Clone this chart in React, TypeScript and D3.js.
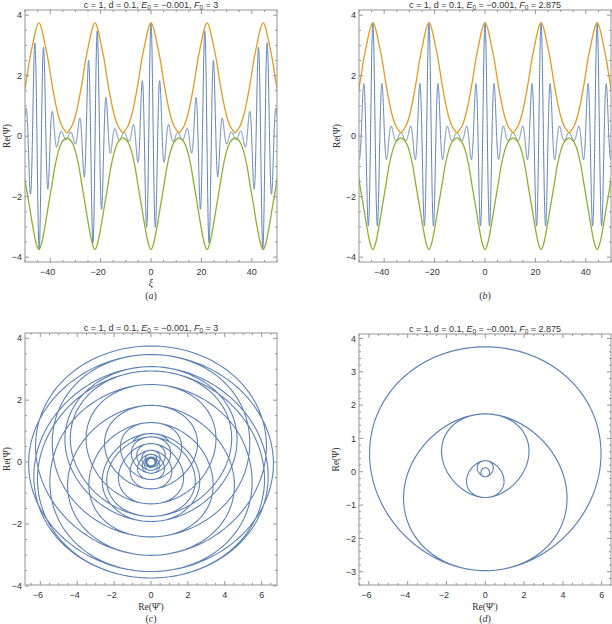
import React from 'react';
import * as d3 from 'd3';

// ---- data ----
const envelopePeriod = 22.25;
const envelopeXi = [0, 1.06, 2.38, 3.7, 5.04, 6.36, 7.68, 9.0, 10.33, 11.125];
const upperEnvelope = [3.75, 3.56, 3.06, 2.51, 1.8, 1.19, 0.69, 0.36, 0.18, 0.11];
const lowerEnvelope = [-3.75, -3.55, -3.0, -2.34, -1.68, -1.01, -0.52, -0.22, -0.09, -0.06];
// magnitudes of successive Re(Psi) extrema over half an envelope period (panel b / d)
const extremumXi = [0, 1.86, 3.71, 5.56, 7.42, 9.27, 11.125];
const extremumAmp = [3.75, 2.95, 1.7, 0.75, 0.32, 0.15, 0.12];
const waveNumberA = 1.77; // F0 = 3
const waveNumberB = 1.6943; // F0 = 2.875
const xiMajor = [-40, -20, 0, 20, 40];
const psiMajorTop = [-4, -2, 0, 2, 4];
const dpsiMajor = [-6, -4, -2, 0, 2, 4, 6];
const psiMajorC = [-4, -2, 0, 2, 4];
const psiMajorD = [-3, -2, -1, 0, 1, 2, 3, 4];

const BLUE = '#5e81b5';
const ORANGE = '#e19c24';
const GREEN = '#8fb032';
const FRAME = '#949494';
const LABEL = '#333';

function monotone(xs: number[], ys: number[]) {
  const n = xs.length;
  const d: number[] = [];
  for (let i = 0; i < n - 1; i++) d.push((ys[i + 1] - ys[i]) / (xs[i + 1] - xs[i]));
  const m = new Array(n).fill(0);
  for (let i = 1; i < n - 1; i++) {
    if (d[i - 1] * d[i] > 0) m[i] = 2 / (1 / d[i - 1] + 1 / d[i]);
  }
  return (x: number) => {
    let i = d3.bisectRight(xs, x) - 1;
    i = Math.max(0, Math.min(n - 2, i));
    const h = xs[i + 1] - xs[i];
    const t = (x - xs[i]) / h;
    const t2 = t * t, t3 = t2 * t;
    return (2 * t3 - 3 * t2 + 1) * ys[i] + (t3 - 2 * t2 + t) * h * m[i] + (-2 * t3 + 3 * t2) * ys[i + 1] + (t3 - t2) * h * m[i + 1];
  };
}

const ampHalf = monotone(extremumXi, extremumAmp);
function amp(xi: number) {
  let u = ((xi % envelopePeriod) + envelopePeriod) % envelopePeriod;
  if (u > envelopePeriod / 2) u = envelopePeriod - u;
  return ampHalf(u);
}
function rePsi(xi: number, k: number) {
  return amp(xi) * Math.cos(k * xi);
}

function envelopePoints(vals: number[]) {
  const pts: [number, number][] = [];
  for (let c = -3; c <= 3; c++) {
    const center = c * envelopePeriod;
    for (let i = envelopeXi.length - 1; i >= 1; i--) pts.push([center - envelopeXi[i], vals[i]]);
    pts.push([center, vals[0]]);
    for (let i = 1; i < envelopeXi.length - 1; i++) pts.push([center + envelopeXi[i], vals[i]]);
  }
  return pts;
}

const xiSamples = d3.range(-50, 50.0001, 0.02);

type Series = { pts: [number, number][]; color: string; width?: number; curve?: any };

type PanelProps = {
  id: string;
  x0: number; x1: number; y0: number; y1: number;
  xDomain: [number, number]; yDomain: [number, number];
  xMajor: number[]; xMinorStep: number;
  yMajor: number[]; yMinorStep: number;
  F: string;
  xLabel?: React.ReactNode;
  yLabelX: number;
  tag: string;
  series: Series[];
};

function fmt(v: number) {
  return v < 0 ? '\u2212' + Math.abs(v) : String(v);
}

function Panel(p: PanelProps) {
  const xs = d3.scaleLinear().domain(p.xDomain).range([p.x0, p.x1]);
  const ys = d3.scaleLinear().domain(p.yDomain).range([p.y1, p.y0]);
  const cx = (p.x0 + p.x1) / 2;
  const cy = (p.y0 + p.y1) / 2;
  const minor = (dom: [number, number], step: number, major: number[]) =>
    d3.range(Math.ceil(dom[0] / step) * step, dom[1] + 1e-9, step)
      .filter((v) => !major.some((m) => Math.abs(m - v) < 1e-6));
  const xMin = minor(p.xDomain, p.xMinorStep, p.xMajor);
  const yMin = minor(p.yDomain, p.yMinorStep, p.yMajor);
  const serif = 'Liberation Serif, Times New Roman, serif';
  const sans = 'Liberation Sans, Arial, sans-serif';
  return (
    <g>
      <defs>
        <clipPath id={'clip-' + p.id}>
          <rect x={p.x0} y={p.y0} width={p.x1 - p.x0} height={p.y1 - p.y0} />
        </clipPath>
      </defs>
      <g clipPath={`url(#clip-${p.id})`}>
        {p.series.map((s, i) => {
          const line = d3.line<[number, number]>().x((d) => xs(d[0])).y((d) => ys(d[1])).curve(s.curve || d3.curveLinear);
          return <path key={i} d={line(s.pts) || ''} fill="none" stroke={s.color} strokeWidth={s.width || 1.1} strokeLinejoin="round" />;
        })}
      </g>
      <rect x={p.x0} y={p.y0} width={p.x1 - p.x0} height={p.y1 - p.y0} fill="none" stroke={FRAME} strokeWidth={1} />
      {p.xMajor.map((v) => (
        <g key={'xM' + v}>
          <line x1={xs(v)} x2={xs(v)} y1={p.y1} y2={p.y1 - 4} stroke={FRAME} />
          <line x1={xs(v)} x2={xs(v)} y1={p.y0} y2={p.y0 + 4} stroke={FRAME} />
          <text x={xs(v) - (v < 0 ? 2.5 : 0)} y={p.y1 + 12.5} textAnchor="middle" fontSize={9} fontFamily={sans} fill={LABEL}>{fmt(v)}</text>
        </g>
      ))}
      {xMin.map((v) => (
        <g key={'xm' + v}>
          <line x1={xs(v)} x2={xs(v)} y1={p.y1} y2={p.y1 - 2} stroke={FRAME} />
          <line x1={xs(v)} x2={xs(v)} y1={p.y0} y2={p.y0 + 2} stroke={FRAME} />
        </g>
      ))}
      {p.yMajor.map((v) => (
        <g key={'yM' + v}>
          <line x1={p.x0} x2={p.x0 + 4} y1={ys(v)} y2={ys(v)} stroke={FRAME} />
          <line x1={p.x1} x2={p.x1 - 4} y1={ys(v)} y2={ys(v)} stroke={FRAME} />
          <text x={p.x0 - 3} y={ys(v) + 3.2} textAnchor="end" fontSize={9} fontFamily={sans} fill={LABEL}>{fmt(v)}</text>
        </g>
      ))}
      {yMin.map((v) => (
        <g key={'ym' + v}>
          <line x1={p.x0} x2={p.x0 + 2} y1={ys(v)} y2={ys(v)} stroke={FRAME} />
          <line x1={p.x1} x2={p.x1 - 2} y1={ys(v)} y2={ys(v)} stroke={FRAME} />
        </g>
      ))}
      <text x={cx} y={p.y0 - 1.8} textAnchor="middle" fontSize={9} fontFamily={sans} fill={LABEL}>
        {'c = 1, d = 0.1, '}
        <tspan fontStyle="italic">E</tspan>
        <tspan fontSize={6.5} dy={1.5}>0</tspan>
        <tspan dy={-1.5}>{' = \u22120.001, '}</tspan>
        <tspan fontStyle="italic">F</tspan>
        <tspan fontSize={6.5} dy={1.5}>0</tspan>
        <tspan dy={-1.5}>{' = ' + p.F}</tspan>
      </text>
      <text transform={`translate(${p.yLabelX},${cy}) rotate(-90)`} textAnchor="middle" fontSize={9.5} fontFamily={serif} fill={LABEL}>
        Re(Ψ)
      </text>
      {p.xLabel}
      <text x={cx} y={p.y1 + 36.5} textAnchor="middle" fontSize={10} fontFamily={serif} fill={LABEL}>
        (<tspan fontStyle="italic">{p.tag}</tspan>)
      </text>
    </g>
  );
}

export default function App() {
  const upperPts = envelopePoints(upperEnvelope);
  const lowerPts = envelopePoints(lowerEnvelope);
  const psiA: [number, number][] = xiSamples.map((x) => [x, rePsi(x, waveNumberA)]);
  const psiB: [number, number][] = xiSamples.map((x) => [x, rePsi(x, waveNumberB)]);
  const h = 0.002;
  const phase = (k: number): [number, number][] =>
    xiSamples.map((x) => [(rePsi(x + h, k) - rePsi(x - h, k)) / (2 * h), rePsi(x, k)]);
  const serif = 'Liberation Serif, Times New Roman, serif';
  const xiLabel = (cx: number, y: number) => (
    <text x={cx} y={y} textAnchor="middle" fontSize={10} fontStyle="italic" fontFamily={serif} fill={LABEL}>ξ</text>
  );
  const dpsiLabel = (cx: number, y: number) => (
    <text x={cx} y={y} textAnchor="middle" fontSize={9.5} fontFamily={serif} fill={LABEL}>Re(Ψ')</text>
  );
  return (
    <svg width={612} height={624} style={{ position: 'absolute', left: 0, top: 0, background: '#fff' }}>
      <rect width={612} height={624} fill="#fff" />
      <Panel id="a" x0={25} x1={277} y0={10} y1={262} xDomain={[-50, 50]} yDomain={[-4.16, 4.17]}
        xMajor={xiMajor} xMinorStep={5} yMajor={psiMajorTop} yMinorStep={0.5} F="3"
        xLabel={xiLabel(151, 286)} yLabelX={10} tag="a"
        series={[
          { pts: psiA, color: BLUE, width: 1 },
          { pts: upperPts, color: ORANGE, width: 1.3, curve: d3.curveMonotoneX },
          { pts: lowerPts, color: GREEN, width: 1.3, curve: d3.curveMonotoneX },
        ]} />
      <Panel id="b" x0={359} x1={611} y0={10} y1={262} xDomain={[-50, 50]} yDomain={[-4.16, 4.17]}
        xMajor={xiMajor} xMinorStep={5} yMajor={psiMajorTop} yMinorStep={0.5} F="2.875"
        yLabelX={340} tag="b"
        series={[
          { pts: psiB, color: BLUE, width: 1 },
          { pts: upperPts, color: ORANGE, width: 1.3, curve: d3.curveMonotoneX },
          { pts: lowerPts, color: GREEN, width: 1.3, curve: d3.curveMonotoneX },
        ]} />
      <Panel id="c" x0={25} x1={277} y0={333} y1={585} xDomain={[-6.83, 6.83]} yDomain={[-3.97, 4.17]}
        xMajor={dpsiMajor} xMinorStep={0.5} yMajor={psiMajorC} yMinorStep={0.5} F="3"
        xLabel={dpsiLabel(151, 609.5)} yLabelX={10} tag="c"
        series={[{ pts: phase(waveNumberA), color: BLUE, width: 1.1 }]} />
      <Panel id="d" x0={359} x1={611} y0={334} y1={585} xDomain={[-6.51, 6.48]} yDomain={[-3.4, 4.135]}
        xMajor={dpsiMajor} xMinorStep={0.5} yMajor={psiMajorD} yMinorStep={0.2} F="2.875"
        xLabel={dpsiLabel(485, 609.5)} yLabelX={339} tag="d"
        series={[{ pts: phase(waveNumberB), color: BLUE, width: 1.1 }]} />
    </svg>
  );
}
